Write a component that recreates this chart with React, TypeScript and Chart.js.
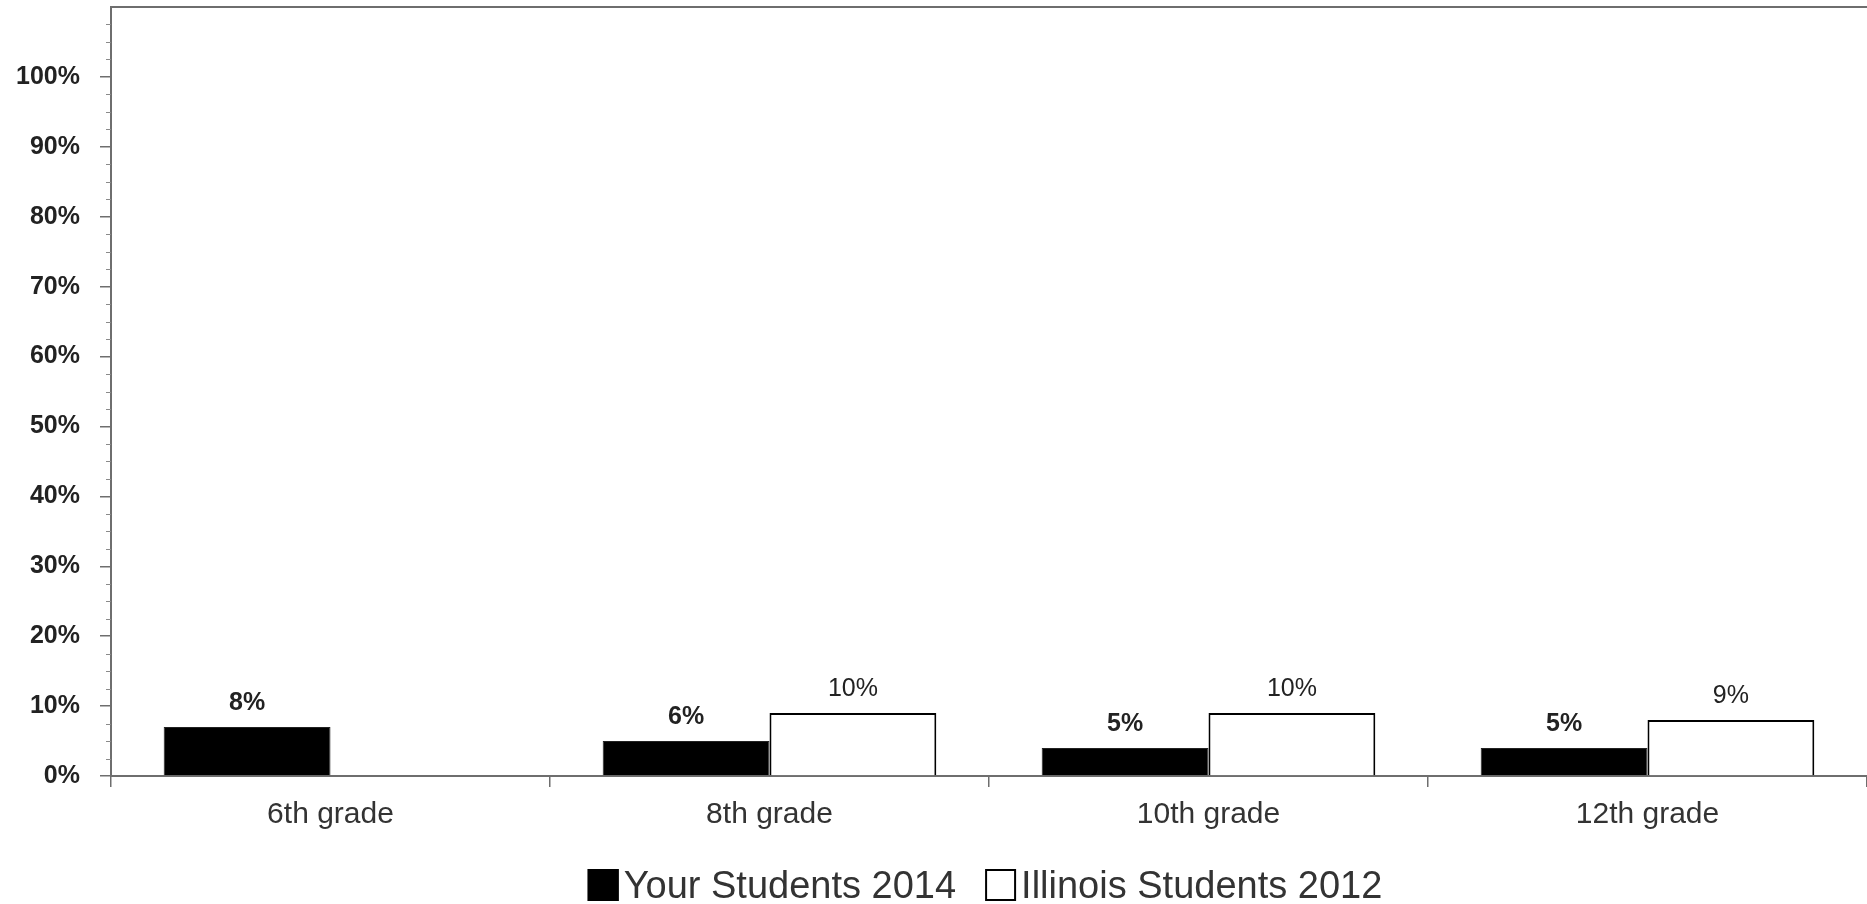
import React, { useEffect, useRef } from "react";
import { Chart, registerables } from "chart.js";

Chart.register(...registerables);

const categories = ["6th grade", "8th grade", "10th grade", "12th grade"];
const seriesNames = ["Your Students 2014", "Illinois Students 2012"];
const yourStudents = [7, 5, 4, 4];
const illinoisStudents = [null, 9, 9, 8];
const yourLabels = ["8%", "6%", "5%", "5%"];
const illinoisLabels = ["", "10%", "10%", "9%"];
const yMax = 110;
const majorStep = 10;
const minorStep = 2.5;

const FONT = "'Liberation Sans', Arial, sans-serif";
const AXIS = "#6e6e6e";

const decorPlugin = {
  id: "decor",
  afterDraw(chart: any) {
    const { ctx, chartArea } = chart;
    const y = chart.scales.y;
    ctx.save();
    // top border
    ctx.strokeStyle = AXIS;
    ctx.lineWidth = 2;
    ctx.beginPath();
    ctx.moveTo(chartArea.left, chartArea.top);
    ctx.lineTo(chartArea.right, chartArea.top);
    ctx.stroke();
    // minor ticks
    ctx.lineWidth = 1;
    ctx.strokeStyle = "#8a8a8a";
    for (let v = 0; v <= yMax + 0.001; v += minorStep) {
      if (Math.abs(v % majorStep) < 0.001) continue;
      const py = Math.round(y.getPixelForValue(v)) + 0.5;
      ctx.beginPath();
      ctx.moveTo(chartArea.left - 5, py);
      ctx.lineTo(chartArea.left, py);
      ctx.stroke();
    }
    // value labels
    const labelSets = [yourLabels, illinoisLabels];
    chart.data.datasets.forEach((ds: any, di: number) => {
      const meta = chart.getDatasetMeta(di);
      ctx.font = (di === 0 ? "bold " : "") + "25px " + FONT;
      ctx.fillStyle = "#222";
      ctx.textAlign = "center";
      ctx.textBaseline = "middle";
      meta.data.forEach((el: any, i: number) => {
        if (ds.data[i] === null || ds.data[i] === undefined) return;
        const txt = labelSets[di][i];
        if (!txt) return;
        ctx.fillText(txt, el.x, el.y - 24);
      });
    });
    // legend
    ctx.font = "38px " + FONT;
    const box = 31;
    const gapText = 5;
    const gapItem = 29;
    const w0 = ctx.measureText(seriesNames[0]).width;
    const w1 = ctx.measureText(seriesNames[1]).width;
    const total = box + gapText + w0 + gapItem + box + gapText + w1;
    const cx = (chartArea.left + chartArea.right) / 2 - 4;
    let x = cx - total / 2;
    const boxTop = 869;
    const fills = ["#000", "#fff"];
    const widths = [w0, w1];
    for (let k = 0; k < 2; k++) {
      ctx.fillStyle = fills[k];
      ctx.fillRect(x, boxTop, box, 32);
      ctx.strokeStyle = "#000";
      ctx.lineWidth = 2;
      ctx.strokeRect(x + 1, boxTop + 1, box - 2, 30);
      x += box + gapText;
      ctx.fillStyle = "#333";
      ctx.textAlign = "left";
      ctx.textBaseline = "alphabetic";
      ctx.fillText(seriesNames[k], x, 898);
      x += widths[k] + gapItem;
    }
    ctx.restore();
  },
};

export default function App() {
  const ref = useRef<HTMLCanvasElement>(null);
  useEffect(() => {
    document.body.style.margin = "0";
    document.body.style.overflow = "hidden";
    const chart = new Chart(ref.current as HTMLCanvasElement, {
      type: "bar",
      data: {
        labels: categories,
        datasets: [
          {
            label: seriesNames[0],
            data: yourStudents,
            backgroundColor: "#000",
            borderColor: "#222",
            borderWidth: 1,
            categoryPercentage: 0.76,
            barPercentage: 1,
          },
          {
            label: seriesNames[1],
            data: illinoisStudents,
            backgroundColor: "#fff",
            borderColor: "#000",
            borderWidth: 2,
            categoryPercentage: 0.76,
            barPercentage: 1,
          },
        ],
      },
      options: {
        responsive: false,
        animation: false,
        devicePixelRatio: 1,
        layout: { autoPadding: false, padding: { top: 7, left: 0, right: 0, bottom: 0 } },
        plugins: {
          legend: { display: false },
          tooltip: { enabled: false },
          title: { display: false },
        },
        scales: {
          x: {
            offset: true,
            grid: {
              display: true,
              offset: true,
              drawOnChartArea: false,
              tickLength: 11,
              color: AXIS,
              lineWidth: 1.5,
            },
            border: { display: true, color: AXIS, width: 2 },
            ticks: {
              color: "#333",
              padding: 10,
              font: { family: FONT, size: 30 },
              maxRotation: 0,
            },
            afterFit(scale: any) {
              scale.height = 128;
              scale.paddingLeft = 0;
              scale.paddingRight = 0;
            },
          },
          y: {
            min: 0,
            max: yMax,
            afterBuildTicks(scale: any) {
              scale.ticks = scale.ticks.filter((t: any) => t.value <= 100);
            },
            ticks: {
              stepSize: majorStep,
              padding: 20,
              color: "#222",
              font: { family: FONT, size: 25, weight: "bold" },
              callback: (v: any) => v + "%",
            },
            grid: {
              drawOnChartArea: false,
              tickLength: 11,
              color: AXIS,
              lineWidth: 1.5,
            },
            border: { display: true, color: AXIS, width: 2 },
            afterFit(scale: any) {
              scale.width = 111;
              scale.paddingTop = 0;
              scale.paddingBottom = 0;
            },
          },
        },
      },
      plugins: [decorPlugin],
    });
    return () => chart.destroy();
  }, []);
  return (
    <div style={{ width: 1867, height: 904 }}>
      <canvas ref={ref} width={1867} height={904} style={{ display: "block" }} />
    </div>
  );
}
